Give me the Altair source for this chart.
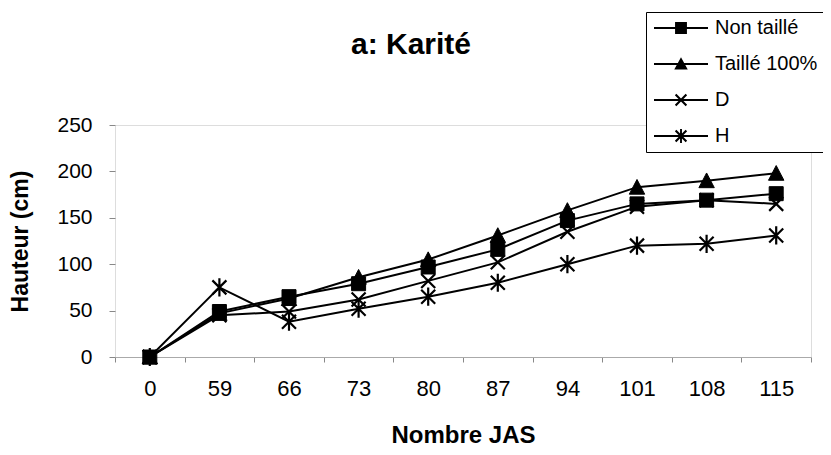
import altair as alt
import pandas as pd

jas = [0, 59, 66, 73, 80, 87, 94, 101, 108, 115]
series = ["Non taillé", "Taillé 100%", "D", "H"]
non_taille = [0, 49, 65, 79, 97, 116, 147, 165, 169, 176]
taille_100 = [0, 47, 63, 86, 105, 131, 158, 183, 190, 198]
d_vals = [0, 45, 49, 62, 82, 102, 135, 162, 169, 165]
h_vals = [0, 75, 38, 52, 65, 80, 100, 120, 122, 131]
y_ticks = [0, 50, 100, 150, 200, 250]

rows = []
for s, vals in zip(series, [non_taille, taille_100, d_vals, h_vals]):
    for j, v in zip(jas, vals):
        rows.append({"jas": j, "serie": s, "hauteur": v})
df = pd.DataFrame(rows)

marker_paths = {
    "Non taillé": "M-1,-1H1V1H-1Z",
    "Taillé 100%": "M0,-1.1L1.1,1H-1.1Z",
    "D": "M-1,-1L1,1M-1,1L1,-1",
    "H": "M-1,-1L1,1M-1,1L1,-1M0,-1.3V1.3",
}

# legend glyphs drawn as filled shapes (line + marker), unit box [-1, 1]
LINE = "M-1,-0.04L1,-0.04L1,0.04L-1,0.04Z"
SQUARE = "M-0.22,-0.22L0.22,-0.22L0.22,0.22L-0.22,0.22Z"
TRIANGLE = "M0,-0.25L0.25,0.2L-0.25,0.2Z"
DIAG1 = "M-0.172,-0.228L0.228,0.172L0.172,0.228L-0.228,-0.172Z"
DIAG2 = "M-0.228,0.172L0.172,-0.228L0.228,-0.172L-0.172,0.228Z"
VBAR = "M-0.035,-0.26L0.035,-0.26L0.035,0.26L-0.035,0.26Z"
legend_paths = [
    LINE + SQUARE,
    LINE + TRIANGLE,
    LINE + DIAG1 + DIAG2,
    LINE + DIAG1 + DIAG2 + VBAR,
]

FONT = "Liberation Sans"

x_enc = alt.X(
    "jas:O",
    scale=alt.Scale(type="band", paddingInner=0, paddingOuter=0),
    axis=alt.Axis(
        title="Nombre JAS",
        labelAngle=0,
        tickBand="extent",
        labelFont=FONT,
        labelFontSize=22,
        labelColor="black",
        labelPadding=16,
        tickSize=5,
        tickColor="#888",
        domainColor="#aaa",
        titleFont=FONT,
        titleFontSize=24,
        titleFontWeight="bold",
        titleColor="black",
        titleY=85,
        titleBaseline="alphabetic",
    ),
)
y_enc = alt.Y(
    "hauteur:Q",
    scale=alt.Scale(domain=[0, 250]),
    axis=alt.Axis(
        values=y_ticks,
        title="Hauteur (cm)",
        grid=False,
        domain=False,
        tickSize=6,
        tickColor="#888",
        labelFont=FONT,
        labelFontSize=21,
        labelColor="black",
        labelPadding=17,
        titleFont=FONT,
        titleFontSize=23,
        titleFontWeight="bold",
        titleColor="black",
        titleAngle=-90,
        titleX=-88,
        titleY=116,
        titleAlign="center",
        titleBaseline="alphabetic",
    ),
)

lines = alt.Chart(df).mark_line(color="black", strokeWidth=2).encode(
    x=x_enc, y=y_enc, detail="serie:N"
)

layers = [lines]
for s in series:
    filled = s in ("Non taillé", "Taillé 100%")
    layers.append(
        alt.Chart(df)
        .transform_filter(alt.datum.serie == s)
        .mark_point(
            shape=marker_paths[s],
            size=196,
            filled=True,
            fill="black",
            stroke="black",
            strokeWidth=1 if filled else 2.2,
            opacity=1,
        )
        .encode(x=x_enc, y=y_enc)
    )

legend_layer = (
    alt.Chart(df)
    .transform_filter("datum.hauteur < -1")
    .mark_point(filled=True, fill="black", opacity=1)
    .encode(
        x=x_enc,
        y=y_enc,
        shape=alt.Shape(
            "serie:N",
            scale=alt.Scale(domain=series, range=legend_paths),
            legend=alt.Legend(
                title=None,
                orient="none",
                legendX=531,
                legendY=-113,
                strokeColor="black",
                fillColor="white",
                padding=6,
                symbolSize=2916,
                symbolOffset=2,
                symbolFillColor="black",
                symbolStrokeWidth=0,
                symbolOpacity=1,
                clipHeight=20,
                rowPadding=16,
                labelOffset=7,
                labelFont=FONT,
                labelFontSize=20,
                labelColor="black",
                labelLimit=300,
            ),
        ),
    )
)
layers.append(legend_layer)

chart = (
    alt.layer(*layers)
    .properties(
        width=696,
        height=232,
        title=alt.TitleParams(
            "a: Karité",
            font=FONT,
            fontSize=30,
            fontWeight="bold",
            color="black",
            anchor="middle",
            frame="group",
            dx=-52,
            dy=52,
        ),
        autosize=alt.AutoSizeParams(type="none"),
        padding={"left": 107, "top": 117, "right": 12, "bottom": 90},
    )
    .configure_view(stroke=None)
    .configure(background="white")
)

chart.save("out.html", embed_options={"renderer": "svg", "actions": False})
